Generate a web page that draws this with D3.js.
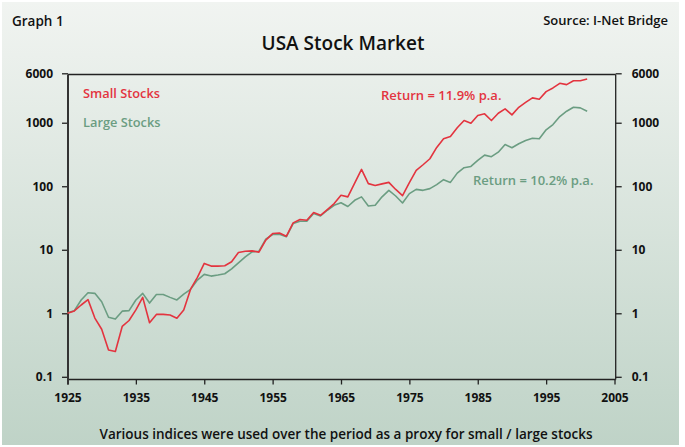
<!DOCTYPE html>
<html><head><meta charset="utf-8">
<script src="https://cdn.jsdelivr.net/npm/d3@7"></script>
<style>html,body{margin:0;padding:0;background:#fff}svg{display:block}text{font-family:"Open Sans",sans-serif}</style>
</head><body>
<script>
const years = d3.range(1925, 2002);
const smallStocks = [1.0,1.09,1.35,1.64,0.84,0.56,0.265,0.25,0.62,0.77,1.13,1.78,0.71,0.96,0.96,0.94,0.835,1.13,2.4,3.67,6.1,5.53,5.53,5.6,6.46,9.07,9.5,9.6,9.17,14.2,18.0,18.4,16.3,26.5,29.9,29.2,38.5,34.9,43,53.3,72,68,112,184,110,103,109,115,89,71,114,178,218,271,408,558,607,832,1083,982,1298,1380,1083,1410,1652,1330,1750,2090,2460,2340,3090,3530,4170,3980,4590,4590,4890];
const largeStocks = [1.02,1.1,1.62,2.11,2.06,1.52,0.865,0.81,1.08,1.1,1.62,2.06,1.45,1.98,1.98,1.78,1.62,2.0,2.38,3.33,4.1,3.85,4.0,4.19,5.0,6.2,7.74,9.27,9.5,14.7,17.4,17.6,16.0,25.9,28.1,28.1,37.2,34.0,41.9,50.1,55,48,60,68,49,50.1,68.2,86.2,70.2,54.5,76.5,89.4,86.2,91.7,106,127,115,161,196,205,255,309,292,344,455,404,467,526,571,558,774,937,1251,1517,1750,1714,1517];
const xTicks = [1925,1935,1945,1955,1965,1975,1985,1995,2005];
const yTicks = [0.1,1,10,100,1000,6000];

const W=685,H=447;
const svg=d3.select("body").append("svg").attr("width",W).attr("height",H);
const defs=svg.append("defs");
const g=defs.append("linearGradient").attr("id","bg").attr("x1",0).attr("y1",0).attr("x2",0).attr("y2",1);
g.append("stop").attr("offset","0%").attr("stop-color","#f1f4f1");
g.append("stop").attr("offset","100%").attr("stop-color","#bfd3c7");
svg.append("rect").attr("x",2).attr("y",2).attr("width",677).attr("height",443).attr("fill","url(#bg)");

const x=d3.scaleLinear().domain([1925,2005]).range([67.5,614.5]);
const y=d3.scaleLog().domain([0.1,6000]).range([376.8,73.3]);
const L=68,R=615.7,T=74.5,B=379.5;

svg.append("line").attr("x1",L).attr("x2",R).attr("y1",T).attr("y2",T).attr("stroke","#222").attr("stroke-width",1.3);
svg.append("line").attr("x1",R).attr("x2",R).attr("y1",T).attr("y2",B).attr("stroke","#222").attr("stroke-width",1.3);

const fmt=d=>String(d);
const yl=svg.append("g").attr("transform",`translate(${L},0)`).call(d3.axisLeft(y).tickValues(yTicks).tickFormat(fmt).tickSize(6).tickPadding(9));
const yr=svg.append("g").attr("transform",`translate(${R},0)`).call(d3.axisRight(y).tickValues(yTicks).tickFormat(fmt).tickSize(6).tickPadding(10));
const xa=svg.append("g").attr("transform",`translate(0,${B})`).call(d3.axisBottom(x).tickValues(xTicks).tickFormat(fmt).tickSize(5).tickPadding(9));
[yl,yr,xa].forEach(a=>{
  a.select(".domain").remove();
  a.selectAll("line").attr("stroke","#222").attr("stroke-width",1.3);
  a.selectAll("text").attr("font-family","'Open Sans',sans-serif").attr("font-size",12).attr("font-weight",700).attr("fill","#111");
});
svg.append("line").attr("x1",L).attr("x2",R).attr("y1",B).attr("y2",B).attr("stroke","#222").attr("stroke-width",1.5);
svg.append("line").attr("x1",L).attr("x2",L).attr("y1",T).attr("y2",B+5).attr("stroke","#333").attr("stroke-width",2);

const line=d3.line().x((d,i)=>x(years[i])).y(d=>y(d));
const green="#6b9d82", red="#e3343f";
svg.append("path").datum(largeStocks).attr("d",line).attr("fill","none").attr("stroke",green).attr("stroke-width",1.6).attr("stroke-linejoin","round");
svg.append("path").datum(smallStocks).attr("d",line).attr("fill","none").attr("stroke",red).attr("stroke-width",1.6).attr("stroke-linejoin","round");

const txt=(t,xx,yy,o)=>svg.append("text").attr("x",xx).attr("y",yy).text(t)
  .attr("font-size",o.size).attr("font-weight",o.w).attr("fill",o.fill).attr("text-anchor",o.anchor||"start").attr("dominant-baseline","middle");
txt("Graph 1",12,22,{size:13.5,w:600,fill:"#111"});
txt("Source: I-Net Bridge",668,22,{size:13,w:600,fill:"#111",anchor:"end"});
txt("USA Stock Market",343,45,{size:19,w:600,fill:"#111",anchor:"middle"});
txt("Small Stocks",83,94.5,{size:12.8,w:600,fill:red});
txt("Large Stocks",83,123.5,{size:12.8,w:600,fill:green});
txt("Return = 11.9% p.a.",381,97,{size:13,w:600,fill:red});
txt("Return = 10.2% p.a.",473,182,{size:13,w:600,fill:green});
txt("Various indices were used over the period as a proxy for small / large stocks",346,435,{size:13.5,w:600,fill:"#111",anchor:"middle"});
</script>
</body></html>
